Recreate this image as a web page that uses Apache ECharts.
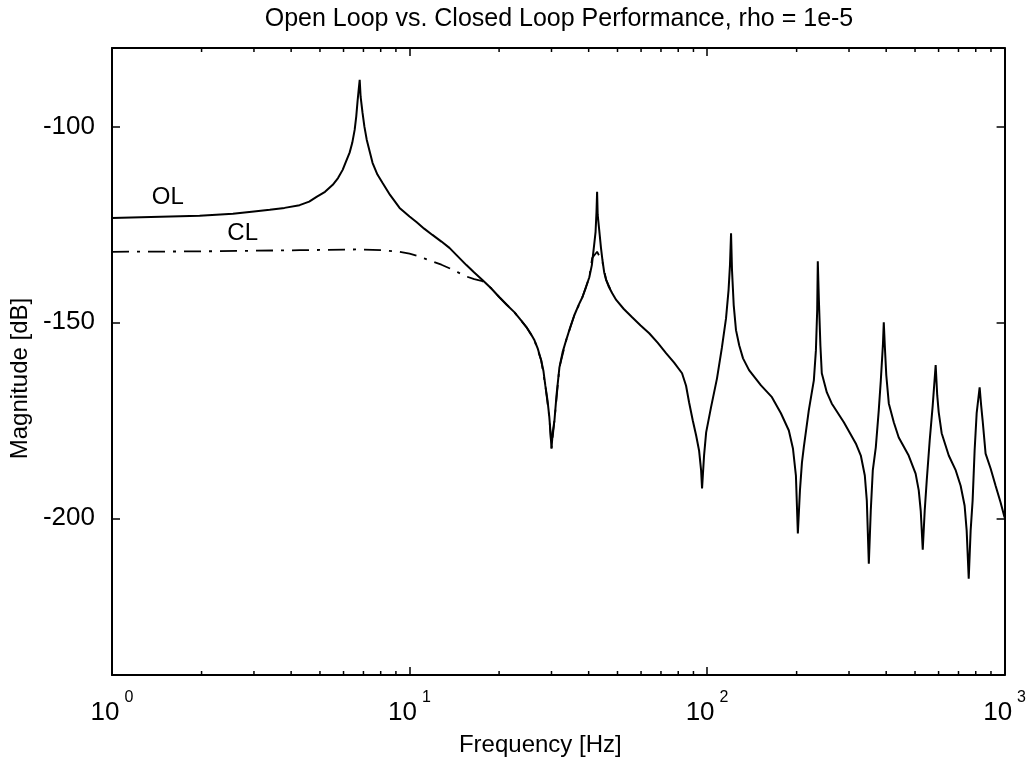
<!DOCTYPE html>
<html><head><meta charset="utf-8">
<script src="https://cdn.jsdelivr.net/npm/echarts@6/dist/echarts.min.js"></script>
<style>html,body{margin:0;padding:0;background:#fff}#c{width:1029px;height:767px}</style>
</head><body><div id="c"></div>
<script>
const titleText = 'Open Loop vs. Closed Loop Performance, rho = 1e-5';
const xName = 'Frequency [Hz]';
const yName = 'Magnitude [dB]';

// Open loop magnitude
const olFreq = [1, 1.97, 2.55, 3.0, 3.39, 3.8, 4.27, 4.6, 4.87, 5.2, 5.52, 5.75, 5.96, 6.1, 6.29, 6.42, 6.54, 6.62, 6.69, 6.75, 6.80,
  6.85, 6.95, 7.05, 7.18, 7.35, 7.51, 7.8, 8.11, 8.6, 9.26, 10.0, 10.55, 11.2, 11.94, 12.8, 13.62, 14.5, 15.53, 16.5, 17.58, 18.8, 20.04,
  21.2, 22.5, 23.6, 24.7, 25.5, 26.3, 27.0, 27.7, 28.2, 28.6, 29.1, 29.5, 29.8, 30.0, 30.3, 30.7, 31.2, 31.9, 32.7, 33.6, 34.7, 35.8,
  37.0, 38.1, 39.2, 40.2, 41.0, 41.8, 42.2, 42.5, 42.7, 42.9, 43.4, 44.0, 44.5, 45.1, 45.8, 46.8, 48.0, 49.5, 52.5, 56.0, 59.8, 63.9,
  68.2, 72.9, 77.5, 82.4, 85.0, 87.0, 89.5, 91.9, 94.0, 95.5, 96.2, 97.7, 99.3, 103.1, 108.0, 112.2, 115.8, 118.1, 119.4, 120.4,
  121.3, 122.9, 125.1, 128.3, 132.1, 138.4, 151.8, 165.2, 177.1, 188.3, 194.4, 198.9, 201.9, 205.2, 208.4, 211.4, 219.8, 228.5,
  232.2, 234.5, 235.6, 237.6, 240.4, 243.0, 252.7, 262.4, 288.2, 316.2, 328.7, 339.0, 344.3, 349.7, 355.0, 360.6, 369.1, 377.7,
  383.7, 389.9, 392.6, 395.7, 400.3, 408.2, 424.2, 440.8, 476.0, 502.3, 514.6, 522.6, 530.8, 538.9, 547.4, 560.2, 573.4, 586.6,
  593.7, 600.5, 614.5, 649.1, 685.3, 711.7, 734.0, 745.6, 757.6, 769.0, 780.8, 793.0, 805.6, 824.4, 834.1, 843.6, 863.3, 897.5,
  932.8, 969.6, 1000];
const olMag = [-123.4, -122.8, -122.3, -121.7, -121.3, -120.8, -120.1, -119.2, -118.0, -116.7, -114.9, -113.2, -111.1, -109.2, -106.7, -104.2, -100.9, -97.5, -93.5, -90.5, -88.1,
  -92.5, -96.5, -100.0, -103.4, -106.5, -109.3, -112.3, -114.4, -117.5, -120.8, -123.0, -124.4, -126.1, -127.7, -129.4, -131.0, -133.1, -135.4, -137.3, -139.2, -141.3, -143.6,
  -145.5, -147.4, -149.3, -151.2, -152.8, -154.6, -156.8, -159.7, -162.5, -166.1, -170.0, -174.2, -178.5, -182.2, -178.0, -175.0, -168.5, -161.5, -157.6, -154.6, -151.2, -148.2,
  -145.6, -143.6, -141.0, -138.5, -135.4, -129.8, -126.9, -121.8, -116.7, -122.6, -126.4, -131.0, -134.1, -137.2, -139.2, -141.0, -142.6, -144.3, -146.6, -148.7, -150.8, -152.8,
  -155.2, -157.9, -160.3, -163.0, -166.2, -170.4, -175.0, -178.9, -182.7, -187.8, -192.4, -184.0, -178.1, -171.7, -164.3, -156.4, -149.0, -141.8, -135.4, -127.3,
  -136.7, -145.6, -152.0, -155.9, -159.2, -162.2, -166.1, -169.1, -173.2, -177.6, -182.2, -189.1, -203.9, -192.9, -185.8, -181.9, -172.4, -164.8,
  -157.1, -146.9, -134.4, -144.3, -155.9, -163.0, -167.9, -170.7, -175.5, -180.9, -184.0, -189.1, -195.5, -211.6, -198.1, -187.8, -181.9, -172.4,
  -164.8, -155.9, -150.0, -155.9, -163.5, -170.7, -175.5, -179.4, -184.0, -188.6, -192.9, -198.1, -208.0, -198.1, -190.4, -180.1, -171.2, -160.9,
  -168.6, -172.9, -178.3, -184.0, -187.8, -191.7, -196.8, -203.1, -215.4, -203.1, -195.5, -182.7, -173.2, -166.6, -171.2, -175.0, -183.5, -187.3,
  -191.7, -196.0, -199.8];

// Closed loop magnitude (coincides with open loop above ~48 Hz)
const clFreq = [1, 1.97, 4.27, 6.80, 8.11, 9.26, 10.0, 10.55, 11.2, 11.94, 12.8, 13.62, 14.5, 15.53, 16.5, 17.58, 18.8, 20.04, 22.5, 24.7, 26.3, 27.7, 28.6, 29.5, 30.0, 30.7, 31.9, 33.6, 35.8, 38.1, 40.2, 41.1, 42.7, 44.5, 45.8, 48.0];
const clMag = [-132.0, -131.9, -131.6, -131.4, -131.6, -132.0, -132.5, -133.0, -133.7, -134.5, -135.3, -136.2, -137.2, -138.3, -139.0, -139.5, -141.3, -143.6, -147.4, -151.2, -154.6, -159.7, -166.1, -174.2, -182.2, -175.0, -161.5, -154.6, -148.2, -143.6, -138.5, -133.6, -132.0, -134.6, -139.2, -142.6];

const yTicks = [-100, -150, -200];
const xMinor = [2,3,4,5,6,7,8,9,20,30,40,50,60,70,80,90,200,300,400,500,600,700,800,900];
const annotations = [{text: 'OL', f: 1.54, db: -118.2}, {text: 'CL', f: 2.75, db: -127.2}];

const FONT = 'Liberation Sans, Arial, Helvetica, sans-serif';
const zip = (a, b) => a.map((v, i) => [v, b[i]]);
const black = '#000';
const Y_MIN = -240, Y_MAX = -80;

const chart = echarts.init(document.getElementById('c'), null, {renderer: 'canvas'});
const lineAxis = {show: true, onZero: false, lineStyle: {color: black, width: 2}};
chart.setOption({
  animation: false,
  backgroundColor: '#fff',
  textStyle: {fontFamily: FONT, color: black},
  title: {
    text: titleText, left: 554, top: 2, textAlign: 'center',
    textStyle: {fontSize: 25, fontWeight: 'normal', fontFamily: FONT, color: black}
  },
  grid: {left: 112, right: 23, top: 48, bottom: 92, containLabel: false},
  xAxis: [
    {
      type: 'log', logBase: 10, min: 1, max: 1000, position: 'bottom',
      name: xName, nameLocation: 'middle', nameGap: 58,
      nameTextStyle: {fontSize: 24, color: black, fontFamily: FONT, padding: [0, 36, 0, 0]},
      axisLine: lineAxis,
      axisTick: {show: true, inside: true, length: 8, lineStyle: {color: black, width: 1.5}},
      splitLine: {show: false}, minorTick: {show: false},
      axisLabel: {
        margin: 15,
        formatter: v => '{b|10}{s|' + Math.round(Math.log10(v)) + '}',
        rich: {
          b: {fontSize: 26, fontFamily: FONT, color: black, lineHeight: 36, verticalAlign: 'bottom'},
          s: {fontSize: 16, fontFamily: FONT, color: black, lineHeight: 36, verticalAlign: 'top', padding: [0, 0, 0, 5]}
        }
      }
    },
    {
      type: 'log', logBase: 10, min: 1, max: 1000, position: 'top',
      axisLine: lineAxis, axisLabel: {show: false}, splitLine: {show: false},
      axisTick: {show: true, inside: true, length: 8, lineStyle: {color: black, width: 1.5}}
    }
  ],
  yAxis: [
    {
      type: 'value', min: Y_MIN, max: Y_MAX, position: 'left',
      name: yName, nameLocation: 'middle', nameGap: 80, nameRotate: 90,
      nameTextStyle: {fontSize: 24, color: black, fontFamily: FONT, padding: [0, 34, 0, 0]},
      axisLine: lineAxis, splitLine: {show: false},
      axisTick: {show: true, inside: true, length: 8, customValues: yTicks, lineStyle: {color: black, width: 1.5}},
      axisLabel: {customValues: yTicks, fontSize: 26, color: black, fontFamily: FONT, margin: 17}
    },
    {
      type: 'value', min: Y_MIN, max: Y_MAX, position: 'right',
      axisLine: lineAxis, splitLine: {show: false}, axisLabel: {show: false},
      axisTick: {show: true, inside: true, length: 8, customValues: yTicks, lineStyle: {color: black, width: 1.5}}
    }
  ],
  series: [
    {
      // minor log ticks on bottom and top frame edges
      name: 'minorTicks', type: 'custom', xAxisIndex: 0, yAxisIndex: 0, silent: true, clip: false, z: 5,
      data: xMinor.map(v => [v]),
      renderItem: (params, api) => {
        const v = api.value(0);
        const b = api.coord([v, Y_MIN]);
        const t = api.coord([v, Y_MAX]);
        const st = {stroke: black, lineWidth: 1.5};
        return {type: 'group', children: [
          {type: 'line', shape: {x1: b[0], y1: b[1], x2: b[0], y2: b[1] - 4}, style: st},
          {type: 'line', shape: {x1: t[0], y1: t[1], x2: t[0], y2: t[1] + 4}, style: st}
        ]};
      }
    },
    {
      name: 'CL', type: 'line', xAxisIndex: 0, yAxisIndex: 0,
      data: zip(clFreq, clMag), showSymbol: false, symbol: 'none',
      lineStyle: {color: black, width: 1.8, type: [17, 8, 3, 8]}, z: 2
    },
    {
      name: 'OL', type: 'line', xAxisIndex: 0, yAxisIndex: 0,
      data: zip(olFreq, olMag), showSymbol: false, symbol: 'none',
      lineStyle: {color: black, width: 2}, z: 3,
      markPoint: {
        symbol: 'circle', symbolSize: 1, itemStyle: {color: 'rgba(0,0,0,0)'},
        label: {show: true, position: 'inside', formatter: '{b}', fontSize: 24, color: black, fontFamily: FONT},
        data: annotations.map(a => ({name: a.text, coord: [a.f, a.db]}))
      }
    }
  ]
});
</script></body></html>
